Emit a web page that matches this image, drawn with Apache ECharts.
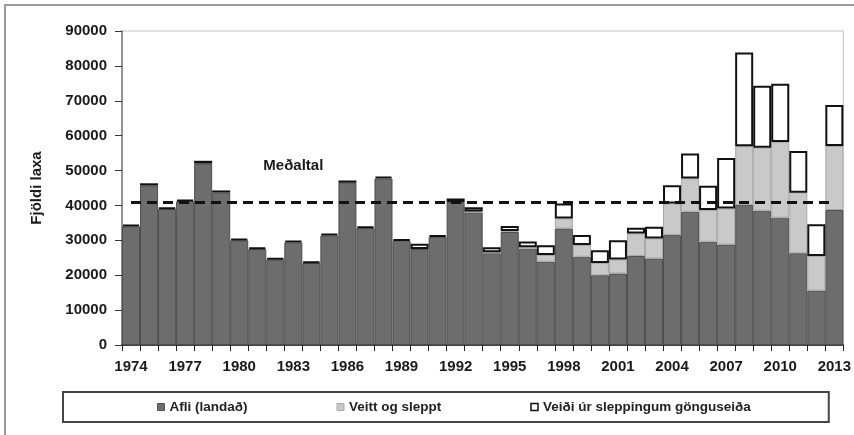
<!DOCTYPE html>
<html>
<head>
<meta charset="utf-8">
<script src="https://cdn.jsdelivr.net/npm/echarts@6/dist/echarts.min.js"></script>
<style>
  html, body { margin: 0; padding: 0; background: #fff; overflow: hidden; }
  #frame {
    position: absolute; left: 4px; top: 4px; width: 900px; height: 500px;
    border: 2px solid #9a9a9a; box-sizing: border-box;
  }
  #chart { position: absolute; left: 0; top: 0; width: 854px; height: 435px; }
</style>
</head>
<body>
<div id="frame"></div>
<div id="chart"></div>
<script>
// ár
const years = [
  "1974","1975","1976","1977","1978","1979","1980","1981","1982","1983",
  "1984","1985","1986","1987","1988","1989","1990","1991","1992","1993",
  "1994","1995","1996","1997","1998","1999","2000","2001","2002","2003",
  "2004","2005","2006","2007","2008","2009","2010","2011","2012","2013"
];

// Afli (landað)
const afli = [
  34000, 45700, 39000, 41200, 52000, 43700, 30000, 27500, 24500, 29400,
  23500, 31400, 46500, 33500, 47700, 29900, 27500, 31000, 41000, 38000,
  26300, 32400, 27600, 23900, 33400, 25300, 20000, 20500, 25500, 24800,
  31500, 38200, 29600, 28800, 40100, 38500, 36500, 26300, 15600, 38700
];

// Veitt og sleppt
const veitt = [
  0, 0, 0, 0, 0, 0, 0, 0, 0, 0,
  0, 0, 0, 0, 0, 0, 0, 0, 0, 300,
  300, 300, 400, 1900, 2860, 3340, 3530, 4010, 6490, 5730,
  9070, 9540, 9070, 10310, 16890, 18040, 21660, 17370, 9930, 18330
];

// Veiði úr sleppingum gönguseiða
const sleppingar = [
  550, 650, 450, 500, 800, 600, 500, 500, 450, 500,
  450, 550, 650, 500, 550, 450, 1500, 500, 1000, 1200,
  1400, 1400, 1700, 2770, 4300, 2860, 3630, 5530, 1620, 3340,
  5250, 7160, 6970, 14510, 26820, 17750, 16700, 11930, 9070, 11740
];

const yTicks = { min: 0, max: 90000, interval: 10000 };
const meanValue = 40800;
const meanLabel = "Meðaltal";

const font = "'Liberation Sans', Arial, sans-serif";
const chart = echarts.init(document.getElementById("chart"));

const noZero = (arr) => arr.map((v) => (v === 0 ? "-" : v));

chart.setOption({
  animation: false,
  textStyle: { fontFamily: font },
  grid: {
    left: 122, right: 8, top: 31, bottom: 90,
    show: true, borderColor: "#c4c4c4", borderWidth: 1
  },
  legend: {
    left: 63, top: 392,
    padding: [8, 78, 8, 94],
    itemGap: 89,
    itemWidth: 7, itemHeight: 7,
    icon: "rect",
    borderColor: "#444", borderWidth: 2,
    textStyle: { fontFamily: font, fontSize: 13.5, fontWeight: "bold", color: "#222" },
    data: [
      { name: "Afli (landað)", itemStyle: { color: "#6d6d6d", borderColor: "#555", borderWidth: 1 } },
      { name: "Veitt og sleppt", itemStyle: { color: "#c9c9c9", borderColor: "#aaa", borderWidth: 1 } },
      { name: "Veiði úr sleppingum gönguseiða", itemStyle: { color: "#fff", borderColor: "#111", borderWidth: 1.5 } }
    ]
  },
  xAxis: {
    type: "category",
    data: years,
    axisLine: { lineStyle: { color: "#111", width: 1.5 } },
    axisTick: { show: true, interval: 0, length: 6, lineStyle: { color: "#222" } },
    axisLabel: {
      interval: 2, margin: 14,
      fontSize: 15, fontWeight: "bold", color: "#1a1a1a", fontFamily: font
    }
  },
  yAxis: {
    type: "value",
    min: yTicks.min, max: yTicks.max, interval: yTicks.interval,
    name: "Fjöldi laxa",
    nameLocation: "middle",
    nameGap: 78,
    nameTextStyle: { fontSize: 15, fontWeight: "bold", color: "#1a1a1a", fontFamily: font },
    splitLine: { show: false },
    axisLine: { show: true, lineStyle: { color: "#777", width: 1.5 } },
    axisTick: { show: true, length: 7, lineStyle: { color: "#333" } },
    axisLabel: {
      margin: 15, fontSize: 15, fontWeight: "bold", color: "#1a1a1a", fontFamily: font,
      formatter: (v) => String(v)
    }
  },
  series: [
    {
      name: "Afli (landað)",
      type: "bar",
      stack: "lax",
      barCategoryGap: "0%",
      data: afli,
      itemStyle: { color: "#6d6d6d", borderColor: "#4e4e4e", borderWidth: 1 },
      markLine: {
        silent: true,
        symbol: "none",
        label: { show: false },
        lineStyle: { color: "#111", width: 3, type: [10, 6] },
        data: [[
          { coord: [years[0], meanValue] },
          { coord: [years[years.length - 1], meanValue] }
        ]]
      },
      markPoint: {
        silent: true,
        symbol: "rect",
        symbolSize: 1,
        itemStyle: { color: "rgba(0,0,0,0)" },
        label: {
          show: true, position: "inside", formatter: meanLabel,
          fontSize: 15, fontWeight: "bold", color: "#1a1a1a", fontFamily: font
        },
        data: [{ coord: ["1983", 51300] }]
      }
    },
    {
      name: "Veitt og sleppt",
      type: "bar",
      stack: "lax",
      data: noZero(veitt),
      itemStyle: { color: "#c9c9c9", borderColor: "#a8a8a8", borderWidth: 1 }
    },
    {
      name: "Veiði úr sleppingum gönguseiða",
      type: "bar",
      stack: "lax",
      data: sleppingar,
      itemStyle: { color: "#ffffff", borderColor: "#111", borderWidth: 2 }
    }
  ]
});
</script>
</body>
</html>
